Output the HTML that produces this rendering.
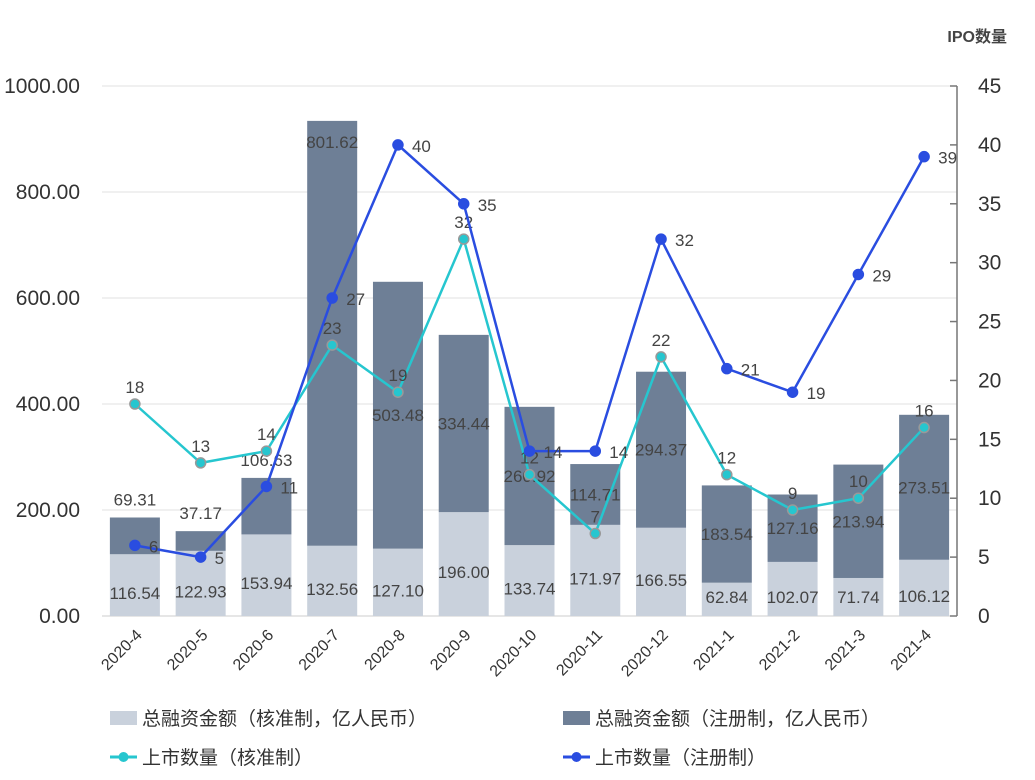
<!DOCTYPE html>
<html><head><meta charset="utf-8"><style>
body{margin:0;background:#fff;}
svg{display:block;font-family:"Liberation Sans","Noto Sans CJK SC",sans-serif;}
</style></head><body>
<svg id="chart" width="1035" height="780"></svg>
<script>
const categories=["2020-4","2020-5","2020-6","2020-7","2020-8","2020-9","2020-10","2020-11","2020-12","2021-1","2021-2","2021-3","2021-4"];
const approvalFunds=[116.54,122.93,153.94,132.56,127.10,196.00,133.74,171.97,166.55,62.84,102.07,71.74,106.12];
const registerFunds=[69.31,37.17,106.63,801.62,503.48,334.44,260.92,114.71,294.37,183.54,127.16,213.94,273.51];
const approvalCount=[18,13,14,23,19,32,12,7,22,12,9,10,16];
const registerCount=[6,5,11,27,40,35,14,14,32,21,19,29,39];
const leftTicks=[0,200,400,600,800,1000];
const rightTicks=[0,5,10,15,20,25,30,35,40,45];

const NS="http://www.w3.org/2000/svg";
const svg=document.getElementById('chart');
const X0=102,X1=957,Y0=616,Y1=86;
const bw=(X1-X0)/categories.length;
const xC=i=>X0+bw*(i+0.5);
const yL=v=>Y0-(v/1000)*(Y0-Y1);
const yR=v=>Y0-(v/45)*(Y0-Y1);
function el(t,a,txt){const e=document.createElementNS(NS,t);for(const k in a)e.setAttribute(k,a[k]);if(txt!==undefined)e.textContent=txt;svg.appendChild(e);return e;}

leftTicks.forEach(v=>{
  const g=el('line',{x1:X0,x2:X1,y1:yL(v),y2:yL(v),stroke:v===0?'#ccc':'#e0e0e0','stroke-width':1});
  
  
  const t=el('text',{x:80,y:yL(v)+7,'text-anchor':'end','font-size':21,fill:'#333'},v.toFixed(2));
  
  
});
const ax=el('line',{x1:X1,x2:X1,y1:Y1,y2:Y0,stroke:'#777','stroke-width':1.5});


rightTicks.forEach(v=>{
  const tk=el('line',{x1:X1-7,x2:X1,y1:yR(v),y2:yR(v),stroke:'#777','stroke-width':1.5});
  
  
  const t=el('text',{x:978,y:yR(v)+7,'font-size':21,fill:'#333'},String(v));
  
  
});
const rt=el('text',{x:1007,y:42,'text-anchor':'end','font-size':16,'font-weight':'bold',fill:'#444'},'IPO数量');



categories.forEach((c,i)=>{
  const cx=xC(i);
  const a=approvalFunds[i],r=registerFunds[i];
  const b1=el('rect',{x:cx-25,y:yL(a),width:50,height:Y0-yL(a),fill:'#c9d1dc'});
  
  
  const b2=el('rect',{x:cx-25,y:yL(a+r),width:50,height:yL(a)-yL(a+r),fill:'#6e7f96'});
  
  
  const tl=el('text',{x:cx,y:Math.min((Y0+yL(a))/2+14,603),'text-anchor':'middle','font-size':17,fill:'#444'},a.toFixed(2));
  
  
  const segH=yL(a)-yL(a+r);
  let ly=(yL(a)+yL(a+r))/2+6;
  if(segH<60) ly=yL(a+r)-12;
  if(segH>300) ly=yL(a+r)+27;
  const t2=el('text',{x:cx,y:ly,'text-anchor':'middle','font-size':17,fill:'#444'},r.toFixed(2));
  
  
  const xl=el('text',{x:cx+8,y:Y0+20,'text-anchor':'end','font-size':16,fill:'#333',transform:`rotate(-45 ${cx+8} ${Y0+20})`},c);
  
  
});

function line(vals,color,name,stroke,labelAbove){
  const p=el('polyline',{points:vals.map((v,i)=>xC(i)+','+yR(v)).join(' '),fill:'none',stroke:color,'stroke-width':2.5});
  
  
  vals.forEach((v,i)=>{
    const d=el('circle',{cx:xC(i),cy:yR(v),r:5,fill:color,stroke:stroke,'stroke-width':1.5});
    
    
    const t=labelAbove?el('text',{x:xC(i),y:yR(v)-11,'text-anchor':'middle','font-size':17,fill:'#444'},String(v))
                      :el('text',{x:xC(i)+14,y:yR(v)+7,'font-size':17,fill:'#444'},String(v));
    
    
  });
}
line(approvalCount,'#26c6cf','approval-count','#999',true);
line(registerCount,'#2a4de0','register-count','#2a4de0',false);

const L=[
 {x:110,y:718,type:'bar',c:'#c9d1dc',t:'总融资金额（核准制，亿人民币）',n:'legend-approval-funds'},
 {x:563,y:718,type:'bar',c:'#6e7f96',t:'总融资金额（注册制，亿人民币）',n:'legend-register-funds'},
 {x:110,y:757,type:'line',c:'#26c6cf',t:'上市数量（核准制）',n:'legend-approval-count'},
 {x:563,y:757,type:'line',c:'#2a4de0',t:'上市数量（注册制）',n:'legend-register-count'}];
L.forEach(o=>{
  if(o.type==='bar'){
    const r=el('rect',{x:o.x,y:o.y-7,width:27,height:14,fill:o.c});
    
    
  }else{
    const l=el('line',{x1:o.x,x2:o.x+27,y1:o.y,y2:o.y,stroke:o.c,'stroke-width':3});
    
    
    const c=el('circle',{cx:o.x+13.5,cy:o.y,r:5,fill:o.c});
    
    
  }
  const t=el('text',{x:o.x+32,y:o.y+7,'font-size':19,fill:'#333'},o.t);
  
  
});
</script>
</body></html>
